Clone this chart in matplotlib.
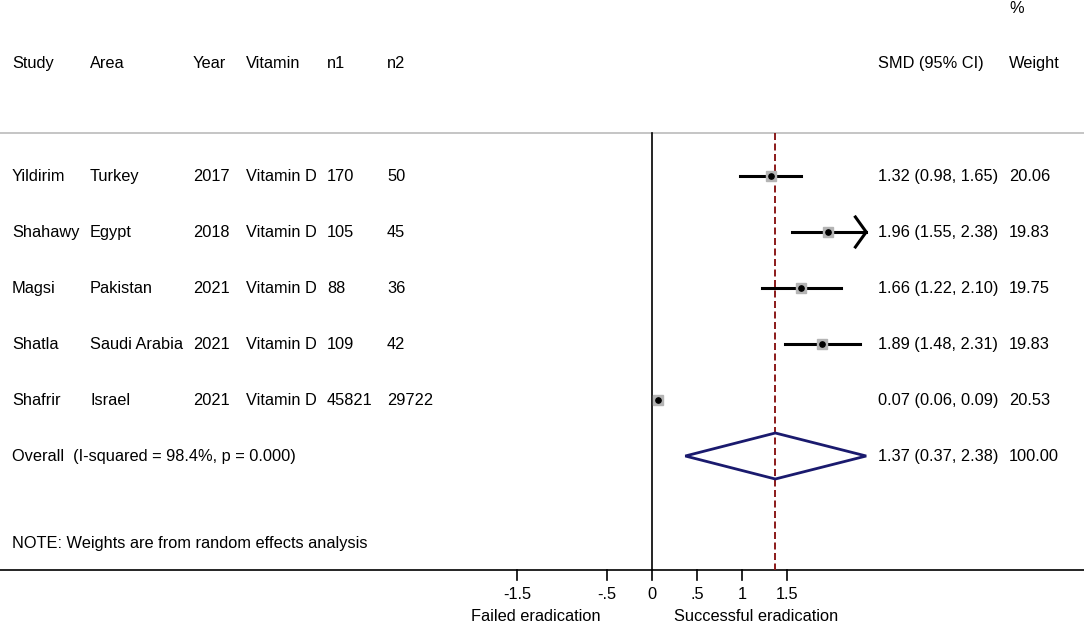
import matplotlib
matplotlib.use('Agg')
from matplotlib import pyplot as plt
from matplotlib.patches import Polygon

plt.rcParams['font.family'] = ['Liberation Sans', 'DejaVu Sans']

# data
study = ['Yildirim', 'Shahawy', 'Magsi', 'Shatla', 'Shafrir']
area = ['Turkey', 'Egypt', 'Pakistan', 'Saudi Arabia', 'Israel']
year = ['2017', '2018', '2021', '2021', '2021']
vitamin = ['Vitamin D'] * 5
n1 = ['170', '105', '88', '109', '45821']
n2 = ['50', '45', '36', '42', '29722']
smd = [1.32, 1.96, 1.66, 1.89, 0.07]
lo = [0.98, 1.55, 1.22, 1.48, 0.06]
hi = [1.65, 2.38, 2.10, 2.31, 0.09]
weight = [20.06, 19.83, 19.75, 19.83, 20.53]
overall = (1.37, 0.37, 2.38)
overall_label = 'Overall  (I-squared = 98.4%, p = 0.000)'
xticks = [-1.5, -0.5, 0, 0.5, 1, 1.5]
xticklabels = ['-1.5', '-.5', '0', '.5', '1', '1.5']
xmax = 2.38  # axis limit of the forest part

W, H = 1084, 623
x0, scale = 652, 90.0  # pixel of 0 and pixels per unit


def px(x):
    # pixel -> data units
    return (x - x0) / scale


fig = plt.figure(figsize=(W / 100, H / 100), dpi=100)
ax = fig.add_axes([0, 0, 1, 1])
ax.set_xlim(px(0), px(W))
ax.set_ylim(H, 0)
ax.axis('off')

fs = 11.8
va = 'center_baseline'
row_y = [176, 232, 288, 344, 400]
y_over = 456
cols = [12, 90, 193, 246, 327, 387]
x_smd, x_w = 878, 1009
dy = -1  # text nudge


def txt(x, y, s, **kw):
    ax.text(x, y + dy, s, fontsize=fs, va=va, **kw)


# header
for cx, t in zip(cols, ['Study', 'Area', 'Year', 'Vitamin', 'n1', 'n2']):
    txt(px(cx), 63, t)
txt(px(x_smd), 63, 'SMD (95% CI)')
txt(px(x_w), 63, 'Weight')
txt(px(x_w), 8, '%')

# lines
ax.plot([px(0), px(W)], [133, 133], color='#bbbbbb', lw=1.2)
ax.plot([px(0), px(W)], [570, 570], color='black', lw=1.2)
ax.plot([0, 0], [133, 570], color='black', lw=1.2)
ax.plot([overall[0]] * 2, [133, 570], color='#8b1a1a', lw=1.4, ls=(0, (3.6, 1.8)))

# studies
for i, y in enumerate(row_y):
    for cx, t in zip(cols, [study[i], area[i], year[i], vitamin[i], n1[i], n2[i]]):
        txt(px(cx), y, t)
    txt(px(x_smd), y, f'{smd[i]:.2f} ({lo[i]:.2f}, {hi[i]:.2f})')
    txt(px(x_w), y, f'{weight[i]:.2f}')
    ax.plot([lo[i], min(hi[i], xmax)], [y, y], color='black', lw=2.2, zorder=3)
    if hi[i] >= xmax:
        ax.plot([xmax - 0.12, xmax, xmax - 0.12], [y - 15, y, y + 15], color='black', lw=2.2,
                zorder=3)
    ax.plot(smd[i], y, marker='s', ms=weight[i] / 3, color='#b4b4b4', mec='#b4b4b4',
            zorder=4)
    ax.plot(smd[i], y, marker='o', ms=3.8, color='black', zorder=5)

# overall
txt(px(12), y_over, overall_label)
txt(px(x_smd), y_over, f'{overall[0]:.2f} ({overall[1]:.2f}, {overall[2]:.2f})')
txt(px(x_w), y_over, '100.00')
d = Polygon([(overall[1], y_over), (overall[0], y_over - 23), (overall[2], y_over),
             (overall[0], y_over + 23)], closed=True, fill=False, edgecolor='#1a1a6e', lw=2.0,
            zorder=4)
ax.add_patch(d)

txt(px(12), 543, 'NOTE: Weights are from random effects analysis')

# x axis ticks
for t, lab in zip(xticks, xticklabels):
    ax.plot([t, t], [570, 580], color='black', lw=1.2)
    txt(t, 594, lab, ha='center')
txt(-1.29, 616, 'Failed eradication', ha='center')
txt(1.16, 616, 'Successful eradication', ha='center')

plt.savefig('out.png', dpi=100)
